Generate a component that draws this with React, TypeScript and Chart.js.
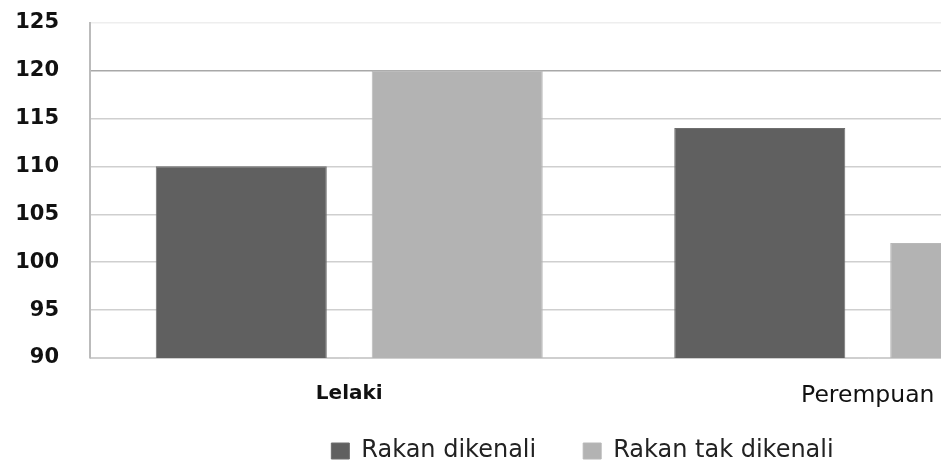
import React, { useEffect, useRef } from "react";
import { Chart, registerables } from "chart.js";

Chart.register(...registerables);

const categories = ["Lelaki", "Perempuan"];
const seriesNames = ["Rakan dikenali", "Rakan tak dikenali"];
const knownValues = [110, 114];
const unknownValues = [120, 102];
const yMin = 90;
const yMax = 125;
const yStep = 5;

const legendShift = {
  id: "legendShift",
  afterLayout(chart: any) {
    const l = chart.legend;
    if (!l) return;
    const dx = 19;
    const dy = -26;
    l.left += dx;
    l.right += dx;
    l.top += dy;
    l.bottom = chart.height;
  },
};

export default function App() {
  const ref = useRef<HTMLCanvasElement | null>(null);
  useEffect(() => {
    if (!ref.current) return;
    const chart = new Chart(ref.current, {
      type: "bar",
      data: {
        labels: categories,
        datasets: [
          {
            label: seriesNames[0],
            data: knownValues,
            backgroundColor: "#606060",
            borderColor: "#6e6e6e",
            borderWidth: 1,
            categoryPercentage: 0.833,
            barPercentage: 0.792,
          },
          {
            label: seriesNames[1],
            data: unknownValues,
            backgroundColor: "#b3b3b3",
            borderColor: "#b8b8b8",
            borderWidth: 1,
            categoryPercentage: 0.833,
            barPercentage: 0.792,
          },
        ],
      },
      plugins: [legendShift],
      options: {
        responsive: false,
        animation: false,
        devicePixelRatio: 1,
        layout: { padding: { top: 0, right: 19, left: 0, bottom: 0 } },
        plugins: {
          tooltip: { enabled: false },
          legend: {
            position: "bottom",
            maxHeight: 42,
            labels: {
              boxWidth: 18,
              boxHeight: 16,
              padding: 47,
              color: "#222",
              font: { family: "DejaVu Sans", size: 24 },
            },
          },
        },
        scales: {
          x: {
            grid: { display: false, drawTicks: false },
            border: { display: true, color: "#cfcfcf", width: 1 },
            ticks: {
              padding: 24,
              maxRotation: 0,
              minRotation: 0,
              autoSkip: false,
              color: "#111",
              font: (ctx: any) =>
                ctx.index === 0
                  ? { family: "DejaVu Sans", size: 20, weight: "bold" }
                  : { family: "DejaVu Sans", size: 23.5, weight: "normal" },
            },
            afterFit: (s: any) => {
              s.height = 60;
            },
          },
          y: {
            min: yMin,
            max: yMax,
            ticks: {
              stepSize: yStep,
              padding: 10,
              color: "#111",
              font: { family: "DejaVu Sans", size: 21, weight: "bold" },
            },
            grid: {
              drawTicks: true,
              tickLength: 21,
              tickColor: "rgba(0,0,0,0)",
              lineWidth: 1.5,
              color: (ctx: any) =>
                ctx.tick && ctx.tick.value === 120
                  ? "#a8a8a8"
                  : ctx.tick && ctx.tick.value === 125
                  ? "#eeeeee"
                  : "#cfcfcf",
            },
            border: { display: true, color: "#bbbbbb", width: 2 },
            afterFit: (s: any) => {
              s.width = 90;
            },
          },
        },
      },
    });
    return () => chart.destroy();
  }, []);
  return (
    <div
      style={{
        position: "fixed",
        left: 0,
        top: 0,
        width: 941,
        height: 460,
        overflow: "hidden",
        background: "#fff",
      }}
    >
      <canvas ref={ref} width={1146} height={460} />
    </div>
  );
}
